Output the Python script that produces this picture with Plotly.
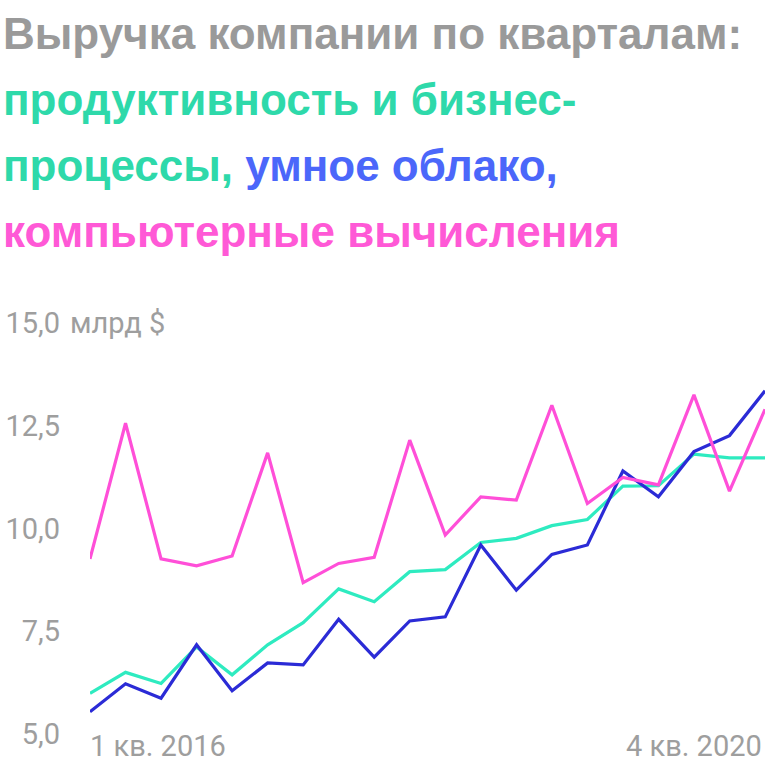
import plotly.graph_objects as go

quarters = [f"{q} кв. {y}" for y in range(2016, 2021) for q in range(1, 5)]
productivity = [5.99, 6.50, 6.23, 7.12, 6.44, 7.17, 7.71, 8.53, 8.22, 8.95,
                9.00, 9.66, 9.76, 10.07, 10.22, 11.03, 11.04, 11.81, 11.72, 11.72]
cloud = [5.54, 6.22, 5.87, 7.17, 6.05, 6.73, 6.68, 7.79, 6.87, 7.75,
         7.85, 9.60, 8.50, 9.37, 9.60, 11.40, 10.77, 11.87, 12.26, 13.35]
computing = [9.26, 12.56, 9.26, 9.09, 9.33, 11.84, 8.68, 9.15, 9.30, 12.15,
             9.84, 10.77, 10.69, 13.00, 10.61, 11.24, 11.06, 13.25, 10.91, 12.90]
y_ticks = [5.0, 7.5, 10.0, 12.5, 15.0]
y_tick_labels = ["5,0", "7,5", "10,0", "12,5", "15,0"]
x_labels = ["1 кв. 2016", "4 кв. 2020"]

C_TEAL = "#2EEBC0"
C_BLUE = "#2B2BD6"
C_PINK = "#FF4FD8"
T_GRAY = "#9A9A9A"
TICK_GRAY = "#9E9E9E"
T_TEAL = "#2ED9AA"
T_BLUE = "#4B67FA"
T_PINK = "#FF59D6"

W, H = 768, 765
L, R, T, B = 90, 3, 323, 31
PW, PH = W - L - R, H - T - B
TICK_FONT = dict(family="Roboto", size=29, color=TICK_GRAY)

x = list(range(len(quarters)))
fig = go.Figure()
for vals, col in [(productivity, C_TEAL), (cloud, C_BLUE), (computing, C_PINK)]:
    fig.add_trace(go.Scatter(x=x, y=vals, mode="lines",
                             line=dict(color=col, width=3.2), hoverinfo="skip"))

fig.update_layout(
    width=W, height=H,
    margin=dict(l=L, r=R, t=T, b=B),
    paper_bgcolor="white", plot_bgcolor="white",
    showlegend=False,
    xaxis=dict(range=[0, 19], showgrid=False, zeroline=False, showline=False,
               showticklabels=False, fixedrange=True),
    yaxis=dict(range=[5, 15], showgrid=False, zeroline=False, showline=False,
               tickmode="array", tickvals=y_ticks, ticktext=y_tick_labels,
               tickfont=TICK_FONT, ticks="", ticklabelstandoff=29, fixedrange=True),
)

fig.add_annotation(x=0, y=15, xref="paper", yref="y", xanchor="left", yanchor="middle",
                   text="млрд $", showarrow=False, xshift=-22, font=TICK_FONT)
fig.add_annotation(x=0, y=0, xref="x", yref="paper", xanchor="left", yanchor="top",
                   text=x_labels[0], showarrow=False, xshift=-2, yshift=7, font=TICK_FONT)
fig.add_annotation(x=19, y=0, xref="x", yref="paper", xanchor="right", yanchor="top",
                   text=x_labels[1], showarrow=False, xshift=-1, yshift=7, font=TICK_FONT)

title_lines = [
    f"<span style='color:{T_GRAY}'>Выручка компании по кварталам:</span>",
    f"<span style='color:{T_TEAL}'>продуктивность и бизнес-</span>",
    f"<span style='color:{T_TEAL}'>процессы,</span> <span style='color:{T_BLUE}'>умное облако,</span>",
    f"<span style='color:{T_PINK}'>компьютерные вычисления</span>",
]
baselines = [48, 114, 180, 246]
TS = 44
for line, bl in zip(title_lines, baselines):
    mid = bl - 0.33 * TS
    fig.add_annotation(x=(1 - L) / PW, y=(H - B - mid) / PH, xref="paper", yref="paper",
                       xanchor="left", yanchor="middle", text=f"<b>{line}</b>",
                       showarrow=False,
                       font=dict(family="Liberation Sans", size=TS))

fig.write_html("out.html", config={"displayModeBar": False},
               post_script="document.body.style.margin='0';")
